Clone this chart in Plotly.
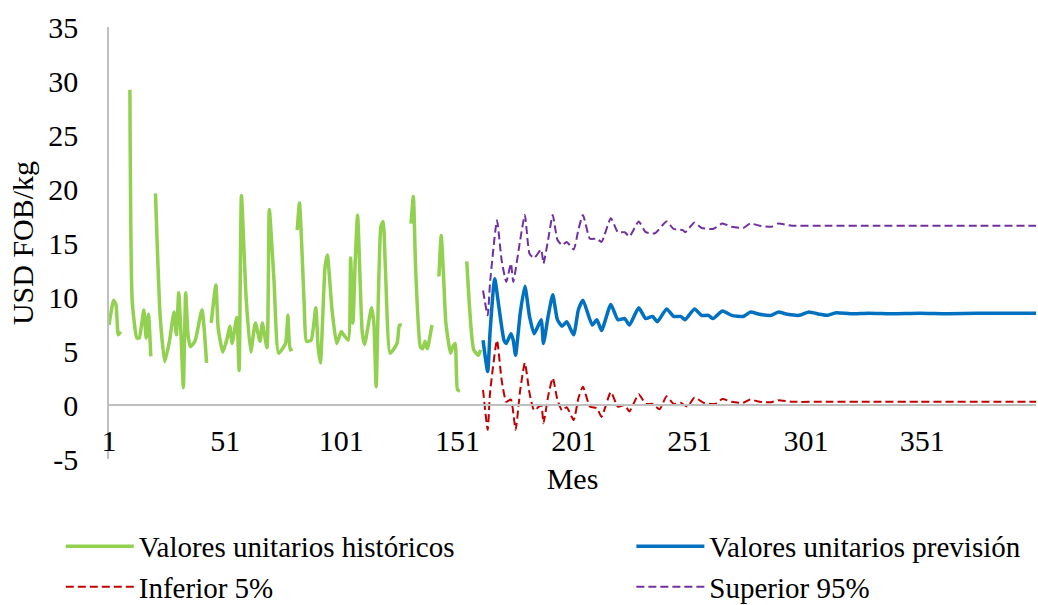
import plotly.graph_objects as go

# ---------------- data ----------------
# Historical unit values (None = gap / missing month)
hist_months = [1, 3, 4, 5, 6, 7,
               10, 11, 13, 14, 16, 17, 18, 19, 20,
               21, 23, 25, 27, 29, 30, 31, 32, 33, 34, 35, 36, 38, 41, 43, 44,
               45, 47, 48, 50, 52, 53, 54, 56, 57, 58, 60, 62, 64, 66, 67, 69, 70, 72, 74, 77, 78, 79, 80, 81,
               82, 83, 85, 86, 88, 90, 91, 92, 94, 95, 97, 99, 101, 102, 104, 105, 106, 107, 108, 110, 111,
               114, 115, 116, 118, 119, 120, 122, 125, 126, 127, 129,
               131, 132, 133, 135, 136, 137, 138, 140, 141,
               143, 144, 145, 146, 148, 149, 150, 151, 152, 153,
               155, 158, 160, 161]
hist_values = [7.4, 9.7, 9.3, 6.5, 6.8, None,
               29.2, 9.6, 6.2, 6.2, 8.8, 6.2, 8.4, 4.5, None,
               19.6, 8.3, 4.0, 5.9, 8.6, 6.5, 10.4, 6.5, 1.6, 10.4, 6.5, 5.4, 5.9, 8.8, 3.9, None,
               7.6, 11.1, 7.1, 4.9, 6.3, 7.3, 5.7, 8.1, 3.2, 19.4, 10.0, 4.9, 7.6, 5.9, 7.6, 5.3, 18.1, 11.6, 4.8, 5.7, 8.3, 5.1, 5.2, None,
               16.2, 18.7, 9.4, 5.9, 6.0, 9.0, 5.4, 3.9, 12.8, 13.9, 8.8, 5.7, 6.8, 6.5, 6.0, 13.6, 7.6, 13.4, 17.6, 6.7, 5.6,
               9.0, 7.6, 1.7, 16.5, 17.0, 12.5, 4.8, 5.7, 7.4, 7.4, None,
               16.8, 19.3, 12.5, 5.4, 5.2, 5.9, 5.2, 7.4, None,
               11.9, 15.7, 11.9, 7.6, 4.8, 5.4, 5.7, 1.4, 1.3, None,
               13.3, 5.1, 4.6, 5.1]

# Forecast unit values
fc_months = [162, 164, 165, 167, 169, 171, 172, 174, 175, 176, 178, 180, 182, 184, 187, 188, 190, 192, 194, 196,
             198, 201, 203, 205, 209, 211, 213, 217, 220, 223, 225, 229, 232, 235, 237, 241, 244, 247, 249, 253,
             256, 259, 261, 265, 269, 274, 277, 281, 286, 289, 293, 298, 302, 307, 310, 314, 320, 328, 338, 350,
             362, 375, 388, 400]
fc_values = [6.0, 3.1, 6.7, 11.7, 8.8, 6.0, 5.7, 6.6, 6.0, 4.6, 8.5, 11.0, 8.2, 6.6, 7.9, 5.7, 8.2, 10.2, 7.9, 7.3,
             7.7, 6.5, 8.8, 9.7, 7.4, 7.9, 6.9, 9.3, 7.9, 8.0, 7.4, 9.0, 8.0, 8.2, 7.7, 8.9, 8.2, 8.2, 7.9, 8.9,
             8.3, 8.3, 8.0, 8.7, 8.3, 8.2, 8.6, 8.4, 8.3, 8.6, 8.4, 8.3, 8.6, 8.4, 8.3, 8.55, 8.45, 8.5, 8.45, 8.5,
             8.45, 8.5, 8.5, 8.5]

# Lower 5 % bound
lo_months = [162, 164, 165, 168, 170, 172, 174, 176, 178, 180, 182, 184, 187, 188, 190, 192, 194, 196, 198, 201,
             203, 205, 208, 211, 213, 217, 220, 223, 225, 229, 232, 235, 238, 241, 244, 247, 250, 253, 257, 262,
             265, 269, 274, 277, 281, 286, 289, 295, 310, 330, 350, 375, 400]
lo_values = [1.4, -2.3, 1.1, 6.0, 2.3, 0.3, 0.5, -2.3, 1.4, 3.9, 1.1, -0.5, 0.0, -1.7, 0.8, 2.5, 0.5, -0.5, -0.2, -1.4,
             0.6, 1.7, -0.15, -0.3, -1.1, 1.2, -0.15, 0.0, -0.6, 1.0, 0.1, 0.1, -0.4, 0.8, 0.1, 0.2, -0.15, 0.7, 0.2, 0.1,
             0.55, 0.3, 0.2, 0.5, 0.3, 0.25, 0.45, 0.3, 0.3, 0.3, 0.3, 0.3, 0.3]

# Upper 95 % bound
hi_months = [162, 164, 165, 168, 170, 172, 174, 175, 178, 180, 182, 184, 187, 188, 190, 192, 194, 196, 198, 201,
             203, 205, 208, 211, 213, 217, 220, 223, 225, 229, 232, 236, 241, 244, 248, 249, 253, 256, 261, 265,
             269, 274, 277, 281, 286, 289, 295, 310, 330, 350, 375, 400]
hi_values = [10.6, 8.3, 11.3, 17.1, 13.4, 11.4, 13.1, 11.4, 15.3, 17.6, 14.0, 13.6, 14.4, 13.1, 15.3, 17.6, 15.3, 14.8, 15.1, 14.4,
             16.2, 17.6, 15.4, 15.4, 15.1, 17.3, 16.0, 16.0, 15.6, 17.0, 16.0, 15.9, 17.0, 16.3, 16.2, 16.0, 16.9, 16.4, 16.3, 16.8,
             16.5, 16.4, 16.8, 16.6, 16.5, 16.8, 16.6, 16.6, 16.6, 16.6, 16.6, 16.6]

x_tick_labels = ["1", "51", "101", "151", "201", "251", "301", "351"]
y_tick_labels = ["-5", "0", "5", "10", "15", "20", "25", "30", "35"]

series_names = ["Valores unitarios históricos", "Valores unitarios previsión",
                "Inferior 5%", "Superior 95%"]

# ---------------- figure ----------------
FONT = "Liberation Serif, Times New Roman, serif"
FS = 30
fig = go.Figure()

fig.add_trace(go.Scatter(x=hist_months, y=hist_values, mode="lines", name=series_names[0],
                         line=dict(color="#92D050", width=3.5, shape="spline", smoothing=0.5),
                         connectgaps=False, legend="legend"))
fig.add_trace(go.Scatter(x=fc_months, y=fc_values, mode="lines", name=series_names[1],
                         line=dict(color="#0070C0", width=3.5, shape="spline", smoothing=0.5),
                         legend="legend2"))
fig.add_trace(go.Scatter(x=lo_months, y=lo_values, mode="lines", name=series_names[2],
                         line=dict(color="#C00000", width=2, dash="8px,4px", shape="spline", smoothing=0.5),
                         legend="legend"))
fig.add_trace(go.Scatter(x=hi_months, y=hi_values, mode="lines", name=series_names[3],
                         line=dict(color="#7030A0", width=2, dash="8px,4px", shape="spline", smoothing=0.5),
                         legend="legend2"))

legend_common = dict(orientation="v", yanchor="top", y=-0.143, xanchor="left",
                     font=dict(family=FONT, size=29, color="black"),
                     itemwidth=68, tracegroupgap=0, bgcolor="rgba(0,0,0,0)",
                     traceorder="normal")

fig.update_layout(
    width=1038, height=605,
    margin=dict(l=109, r=2, t=27, b=146, autoexpand=False),
    paper_bgcolor="white", plot_bgcolor="white",
    font=dict(family=FONT, size=FS, color="black"),
    showlegend=True,
    legend=dict(x=-0.052, **legend_common),
    legend2=dict(x=0.5635, **legend_common),
    xaxis=dict(range=[1, 400], anchor="free", position=0.125,
               tickmode="array", tickvals=[int(t) for t in x_tick_labels], ticktext=x_tick_labels,
               showline=True, linecolor="#BFBFBF", linewidth=1.5,
               showgrid=False, zeroline=False, ticks="",
               ticklabelstandoff=9,
               tickfont=dict(family=FONT, size=FS, color="black"),
               title=dict(text="Mes", font=dict(family=FONT, size=FS, color="black"), standoff=11)),
    yaxis=dict(range=[-5, 35], tickmode="array", tickvals=[float(t) for t in y_tick_labels],
               ticktext=y_tick_labels,
               showline=True, linecolor="#BFBFBF", linewidth=1.5,
               showgrid=False, zeroline=False, ticks="",
               ticklabelstandoff=23,
               tickfont=dict(family=FONT, size=FS, color="black"),
               title=dict(text="USD FOB/kg", font=dict(family=FONT, size=FS, color="black"), standoff=6)),
)

fig.write_html("out.html", config={"displayModeBar": False},
               post_script="document.body.style.margin='0px';document.body.style.overflow='hidden';")
